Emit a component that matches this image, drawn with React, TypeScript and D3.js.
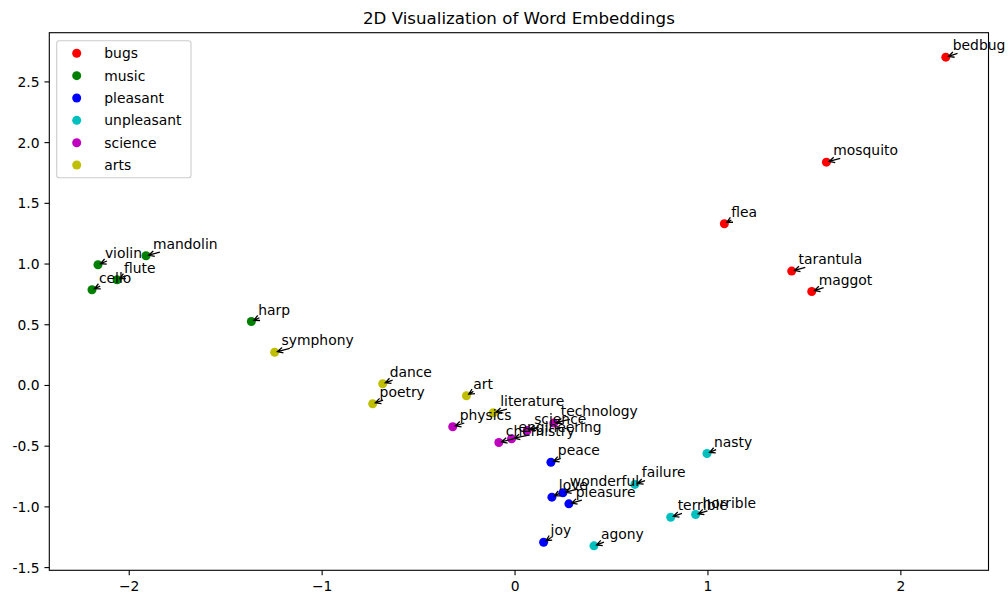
import React from 'react';
import * as d3 from 'd3';

// chart data
const categories = ['bugs', 'music', 'pleasant', 'unpleasant', 'science', 'arts'];
const categoryColors = ['#ff0000', '#008000', '#0000ff', '#00bfbf', '#bf00bf', '#bfbf00'];

const words = [
  'bedbug', 'mosquito', 'flea', 'tarantula', 'maggot',
  'violin', 'mandolin', 'flute', 'cello', 'harp',
  'peace', 'love', 'wonderful', 'pleasure', 'joy',
  'agony', 'failure', 'nasty', 'terrible', 'horrible',
  'physics', 'chemistry', 'engineering', 'science', 'technology',
  'symphony', 'dance', 'poetry', 'art', 'literature',
];
const wordCategory = [
  'bugs', 'bugs', 'bugs', 'bugs', 'bugs',
  'music', 'music', 'music', 'music', 'music',
  'pleasant', 'pleasant', 'pleasant', 'pleasant', 'pleasant',
  'unpleasant', 'unpleasant', 'unpleasant', 'unpleasant', 'unpleasant',
  'science', 'science', 'science', 'science', 'science',
  'arts', 'arts', 'arts', 'arts', 'arts',
];
const wordX = [
  2.233, 1.614, 1.085, 1.434, 1.538,
  -2.162, -1.913, -2.063, -2.193, -1.367,
  0.186, 0.191, 0.248, 0.279, 0.148,
  0.409, 0.621, 0.995, 0.807, 0.936,
  -0.323, -0.084, -0.018, 0.063, 0.201,
  -1.246, -0.686, -0.738, -0.252, -0.113,
];
const wordY = [
  2.704, 1.839, 1.332, 0.942, 0.774,
  0.994, 1.068, 0.871, 0.788, 0.527,
  -0.632, -0.92, -0.884, -0.975, -1.291,
  -1.321, -0.815, -0.56, -1.085, -1.063,
  -0.34, -0.47, -0.439, -0.371, -0.31,
  0.274, 0.014, -0.151, -0.085, -0.225,
];

const xTicks = [-2, -1, 0, 1, 2];
const xTickLabels = ['\u22122', '\u22121', '0', '1', '2'];
const yTicks = [2.5, 2.0, 1.5, 1.0, 0.5, 0.0, -0.5, -1.0, -1.5];
const yTickLabels = ['2.5', '2.0', '1.5', '1.0', '0.5', '0.0', '-0.5', '-1.0', '-1.5'];

const title = '2D Visualization of Word Embeddings';

const FONT = '"DejaVu Sans", "Liberation Sans", sans-serif';
const FS = 13.89;

let measureCtx: CanvasRenderingContext2D | null = null;
const textWidth = (s: string) => {
  if (!measureCtx) measureCtx = document.createElement('canvas').getContext('2d');
  if (!measureCtx) return s.length * FS * 0.6;
  measureCtx.font = `${FS}px ${FONT}`;
  return measureCtx.measureText(s).width;
};

const App: React.FC = () => {
  const width = 1008;
  const height = 592;
  const margin = { top: 32.7, right: 1008 - 988.5, bottom: 592 - 570.3, left: 49.3 };

  // matplotlib style 5% margins around the data
  const [x0, x1] = d3.extent(wordX) as [number, number];
  const [y0, y1] = d3.extent(wordY) as [number, number];
  const xPad = (x1 - x0) * 0.05;
  const yPad = (y1 - y0) * 0.05;

  const xScale = d3.scaleLinear().domain([x0 - xPad, x1 + xPad]).range([margin.left, width - margin.right]);
  const yScale = d3.scaleLinear().domain([y0 - yPad, y1 + yPad]).range([height - margin.bottom, margin.top]);
  const colorScale = d3.scaleOrdinal<string, string>().domain(categories).range(categoryColors);

  const left = margin.left;
  const right = width - margin.right;
  const top = margin.top;
  const bottom = height - margin.bottom;

  const off = 6.94; // 5pt text offset
  const shrink = 2.78;
  const headLen = 5.56;
  const headW = 2.78;
  const dotR = 4.5;

  const annotations = words.map((w, i) => {
    const px = xScale(wordX[i]);
    const py = yScale(wordY[i]);
    const tx = px + off;
    const ty = py - off;
    const tw = textWidth(w);
    const bx0 = tx;
    const bx1 = tx + tw;
    const by0 = ty - 0.76 * FS;
    const by1 = ty + 0.23 * FS;
    const cx = (bx0 + bx1) / 2;
    const cy = (by0 + by1) / 2;
    const dx = cx - px;
    const dy = cy - py;
    const len = Math.hypot(dx, dy);
    const sx = (bx0 - px) / dx;
    const sy = (by1 - py) / dy;
    const s = Math.max(sx, sy);
    const tail = [px + s * dx, py + s * dy];
    const ux = dx / len;
    const uy = dy / len;
    const head = [px + ux * shrink, py + uy * shrink];
    const hb = [head[0] + ux * headLen, head[1] + uy * headLen];
    const h1 = [hb[0] - uy * headW, hb[1] + ux * headW];
    const h2 = [hb[0] + uy * headW, hb[1] - ux * headW];
    return { w, tx, ty, tail, head, h1, h2 };
  });

  return (
    <div style={{ position: 'fixed', left: 0, top: 0 }}>
      <svg width={width} height={height} style={{ display: 'block', background: '#fff' }} fontFamily={FONT}>
        <rect x={0} y={0} width={width} height={height} fill="#fff" />

        <text x={(left + right) / 2} y={top - 8.3} textAnchor="middle" fontSize={16.67} fill="#000">
          {title}
        </text>

        {/* points */}
        <g>
          {words.map((w, i) => (
            <circle key={w} cx={xScale(wordX[i])} cy={yScale(wordY[i])} r={dotR} fill={colorScale(wordCategory[i])} />
          ))}
        </g>

        {/* annotations */}
        <g>
          {annotations.map((a) => (
            <g key={a.w}>
              <path
                d={`M${a.tail[0]},${a.tail[1]}L${a.head[0]},${a.head[1]}M${a.h1[0]},${a.h1[1]}L${a.head[0]},${a.head[1]}L${a.h2[0]},${a.h2[1]}`}
                fill="none"
                stroke="#000"
                strokeWidth={1.3}
              />
              <text x={a.tx} y={a.ty} fontSize={FS} fill="#000">
                {a.w}
              </text>
            </g>
          ))}
        </g>

        {/* spines */}
        <rect x={left} y={top} width={right - left} height={bottom - top} fill="none" stroke="#000" strokeWidth={1.1} />

        {/* x axis */}
        <g>
          {xTicks.map((t, i) => (
            <g key={t} transform={`translate(${xScale(t)},${bottom})`}>
              <line y2={4.86} stroke="#000" strokeWidth={1.1} />
              <text y={4.86 + 4.86 + 10.6} textAnchor="middle" fontSize={FS} fill="#000">
                {xTickLabels[i]}
              </text>
            </g>
          ))}
        </g>

        {/* y axis */}
        <g>
          {yTicks.map((t, i) => (
            <g key={t} transform={`translate(${left},${yScale(t)})`}>
              <line x2={-4.86} stroke="#000" strokeWidth={1.1} />
              <text x={-9.72} dy="0.36em" textAnchor="end" fontSize={FS} fill="#000">
                {yTickLabels[i]}
              </text>
            </g>
          ))}
        </g>

        {/* legend */}
        <g>
          <rect x={56.7} y={40.7} width={134.3} height={137} rx={2.8} fill="#fff" fillOpacity={0.8} stroke="#ccc" strokeWidth={1.1} />
          {categories.map((c, i) => (
            <g key={c} transform={`translate(0,${53.3 + i * 22.35})`}>
              <circle cx={76.7} cy={0} r={dotR} fill={colorScale(c)} />
              <text x={104.3} dy="0.36em" fontSize={FS} fill="#000">
                {c}
              </text>
            </g>
          ))}
        </g>
      </svg>
    </div>
  );
};

export default App;
